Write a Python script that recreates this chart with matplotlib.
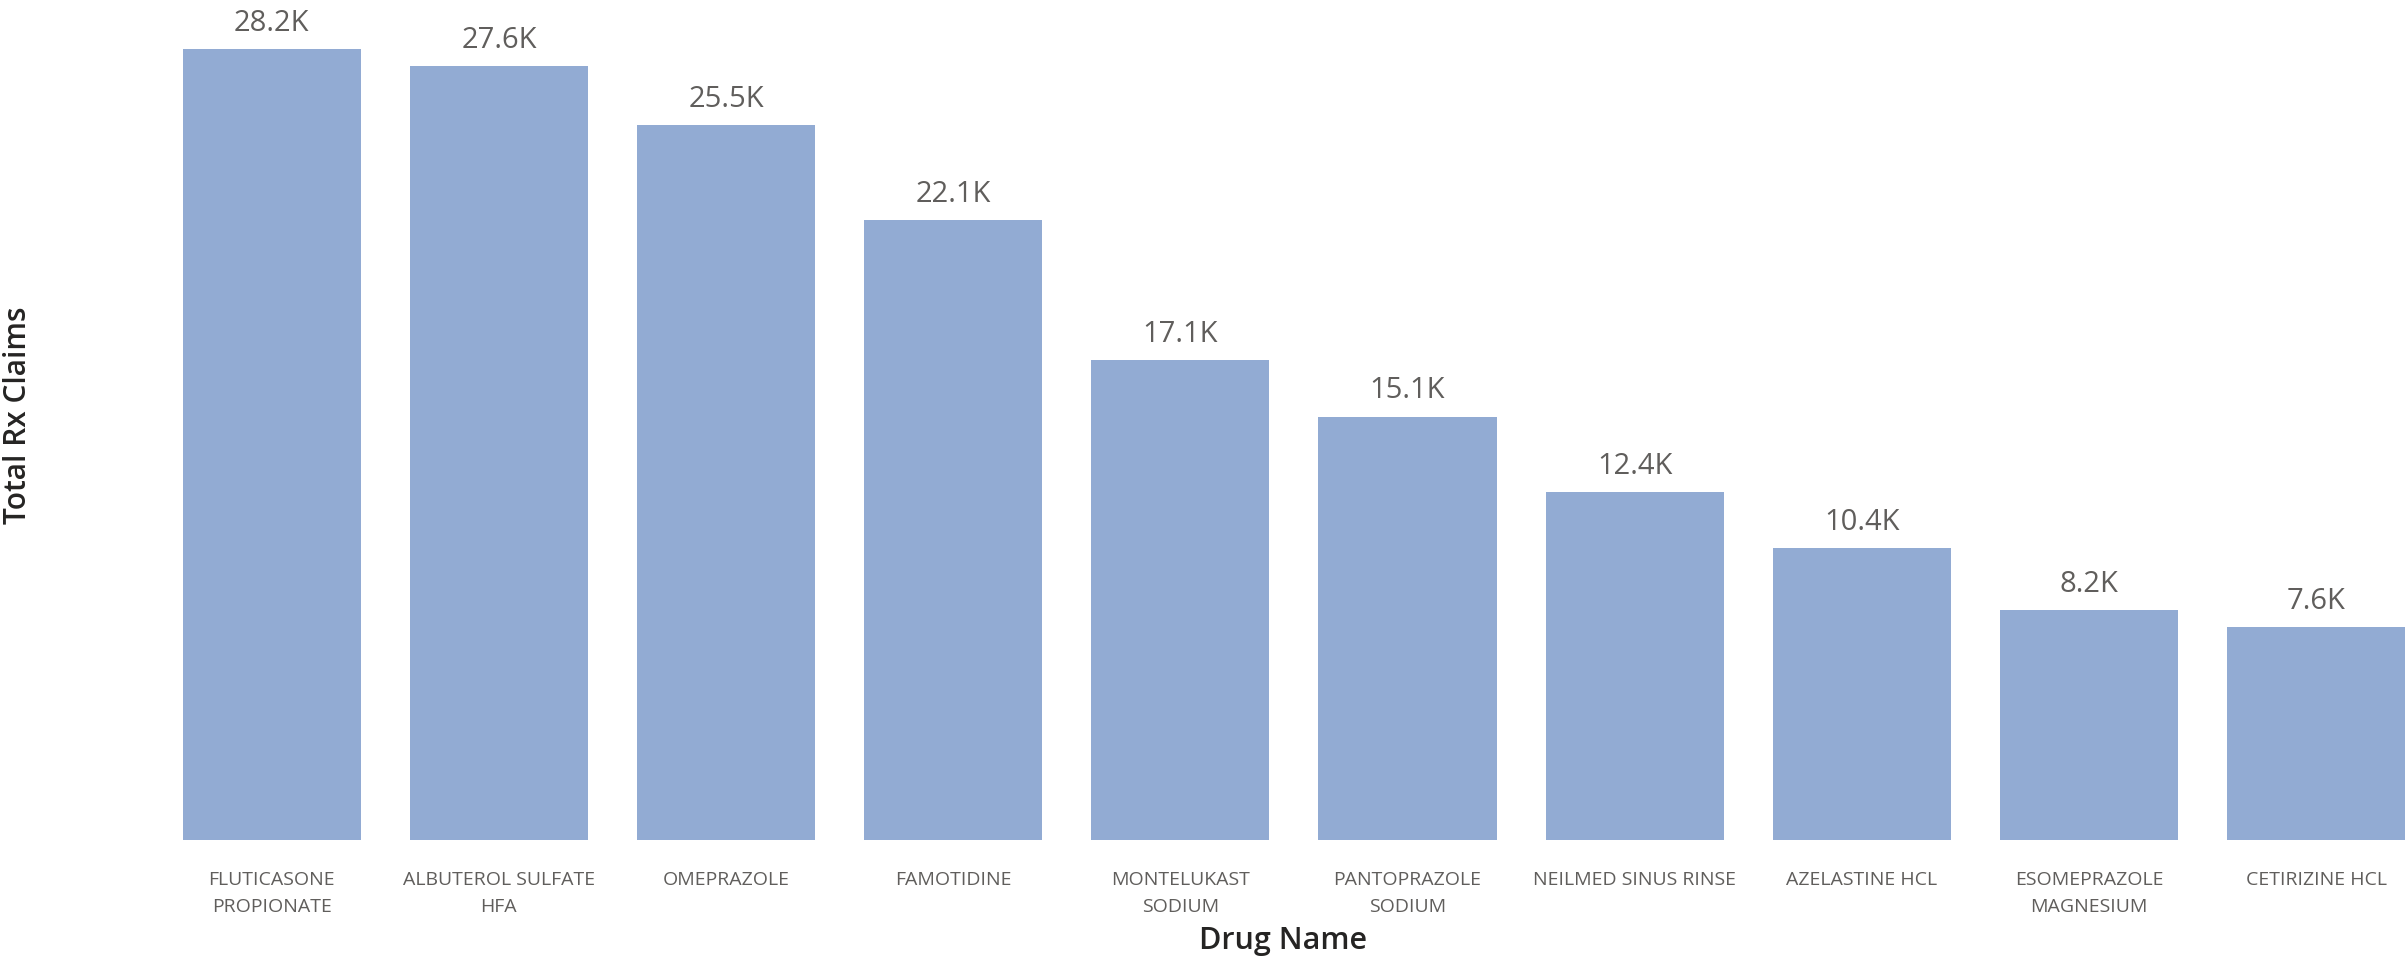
import matplotlib
matplotlib.use("Agg")
import matplotlib.pyplot as plt

drugs = [
    "FLUTICASONE\nPROPIONATE",
    "ALBUTEROL SULFATE\nHFA",
    "OMEPRAZOLE",
    "FAMOTIDINE",
    "MONTELUKAST\nSODIUM",
    "PANTOPRAZOLE\nSODIUM",
    "NEILMED SINUS RINSE",
    "AZELASTINE HCL",
    "ESOMEPRAZOLE\nMAGNESIUM",
    "CETIRIZINE HCL",
]
claims = [28200, 27600, 25500, 22100, 17100, 15100, 12400, 10400, 8200, 7600]

bar_color = "#92ABD3"
label_gray = "#605E5C"
title_dark = "#252423"

plt.rcParams["font.family"] = ["Open Sans", "DejaVu Sans"]

fig = plt.figure(figsize=(24.07, 9.56), dpi=100)
ax = fig.add_axes([0.0657, 0.1213, 0.9343, 0.8787])

x = range(len(drugs))
bars = ax.bar(x, claims, width=0.784, color=bar_color)

for b, v in zip(bars, claims):
    ax.annotate(f"{v / 1000:.1f}K", (b.get_x() + b.get_width() / 2, v),
                xytext=(0, 13), textcoords="offset points",
                ha="center", va="baseline", fontsize=21, color=label_gray)

ax.set_xlim(-0.5, 9.40)
ax.set_ylim(0, 29950)
ax.set_xticks(list(x))
ax.set_xticklabels(drugs, fontsize=14, color=label_gray, linespacing=1.7)
ax.tick_params(axis="x", length=0, pad=22)
ax.set_yticks([])
for s in ax.spines.values():
    s.set_visible(False)

ax.set_xlabel("Drug Name", fontsize=22, color=title_dark, fontweight="semibold", labelpad=7)
fig.text(0.0075, 0.566, "Total Rx Claims", rotation=90, ha="center", va="center",
         fontsize=21.5, color=title_dark, fontweight="semibold")

fig.savefig("out.png", dpi=100)
